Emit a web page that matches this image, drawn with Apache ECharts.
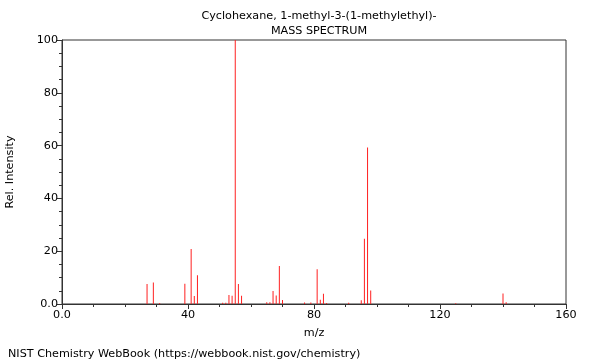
<!DOCTYPE html>
<html>
<head>
<meta charset="utf-8">
<script src="https://cdn.jsdelivr.net/npm/echarts@6/dist/echarts.min.js"></script>
<style>html,body{margin:0;padding:0;background:#fff}#c{width:600px;height:360px}</style>
</head>
<body>
<div id="c"></div>
<script>
const mzValues = [27, 29, 31, 39, 41, 42, 43, 51, 52, 53, 54, 55, 56, 57, 65, 66, 67, 68, 69, 70, 77, 79, 81, 82, 83, 84, 91, 95, 96, 97, 98, 125, 140, 141];
const intensities = [7.6, 8.1, 0.4, 7.7, 20.8, 3.0, 10.9, 0.5, 0.5, 3.4, 3.1, 100, 7.6, 3.1, 0.7, 0.7, 4.9, 3.2, 14.4, 1.5, 0.6, 0.6, 13.2, 1.6, 3.9, 0.4, 0.5, 1.4, 24.7, 59.3, 5.1, 0.3, 4.0, 0.7];
const xTicks = [0, 40, 80, 120, 160];
const yTicks = [0, 20, 40, 60, 80, 100];
const titleLine1 = 'Cyclohexane, 1-methyl-3-(1-methylethyl)-';
const titleLine2 = 'MASS SPECTRUM';
const footer = 'NIST Chemistry WebBook (https://webbook.nist.gov/chemistry)';

const font = 'DejaVu Sans';
const fs = 11.2;
const fmt = v => (v === 0 ? '0.0' : String(v));
const chart = echarts.init(document.getElementById('c'), null, {renderer: 'canvas'});
chart.setOption({
  animation: false,
  backgroundColor: '#fff',
  textStyle: {fontFamily: font},
  title: [
    {text: titleLine1, left: 314, top: 6, textAlign: 'center',
     textStyle: {fontFamily: font, fontSize: fs, fontWeight: 'normal', color: '#000'}},
    {text: titleLine2, left: 314, top: 21, textAlign: 'center',
     textStyle: {fontFamily: font, fontSize: fs, fontWeight: 'normal', color: '#000'}},
    {text: footer, left: 3, top: 344,
     textStyle: {fontFamily: font, fontSize: fs, fontWeight: 'normal', color: '#000'}}
  ],
  grid: {left: 62, right: 34, top: 40, bottom: 56, outerBoundsMode: 'none', containLabel: false,
         show: true, borderColor: '#333', borderWidth: 1, backgroundColor: 'transparent'},
  xAxis: {
    type: 'value', min: xTicks[0], max: xTicks[xTicks.length - 1], interval: 40,
    name: 'm/z', nameLocation: 'middle', nameGap: 24,
    nameTextStyle: {fontFamily: font, fontSize: fs, color: '#000'},
    axisLine: {show: true, lineStyle: {color: '#333'}},
    axisTick: {show: true, length: 5, lineStyle: {color: '#333'}},
    minorTick: {show: true, splitNumber: 4, length: 3, lineStyle: {color: '#333'}},
    splitLine: {show: false},
    axisLabel: {formatter: fmt, fontFamily: font, fontSize: fs, color: '#000', margin: 6}
  },
  yAxis: {
    type: 'value', min: yTicks[0], max: yTicks[yTicks.length - 1], interval: 20,
    name: 'Rel. Intensity', nameLocation: 'middle', nameGap: 46, nameRotate: 90,
    nameTextStyle: {fontFamily: font, fontSize: fs, color: '#000'},
    axisLine: {show: true, lineStyle: {color: '#333'}},
    axisTick: {show: true, length: 5, lineStyle: {color: '#333'}},
    minorTick: {show: true, splitNumber: 4, length: 3, lineStyle: {color: '#333'}},
    splitLine: {show: false},
    axisLabel: {formatter: fmt, fontFamily: font, fontSize: fs, color: '#000', margin: 4}
  },
  series: [{
    type: 'bar',
    barWidth: 1,
    itemStyle: {color: '#ff2020'},
    data: mzValues.map((m, i) => [m, intensities[i]])
  }]
});
</script>
</body>
</html>
